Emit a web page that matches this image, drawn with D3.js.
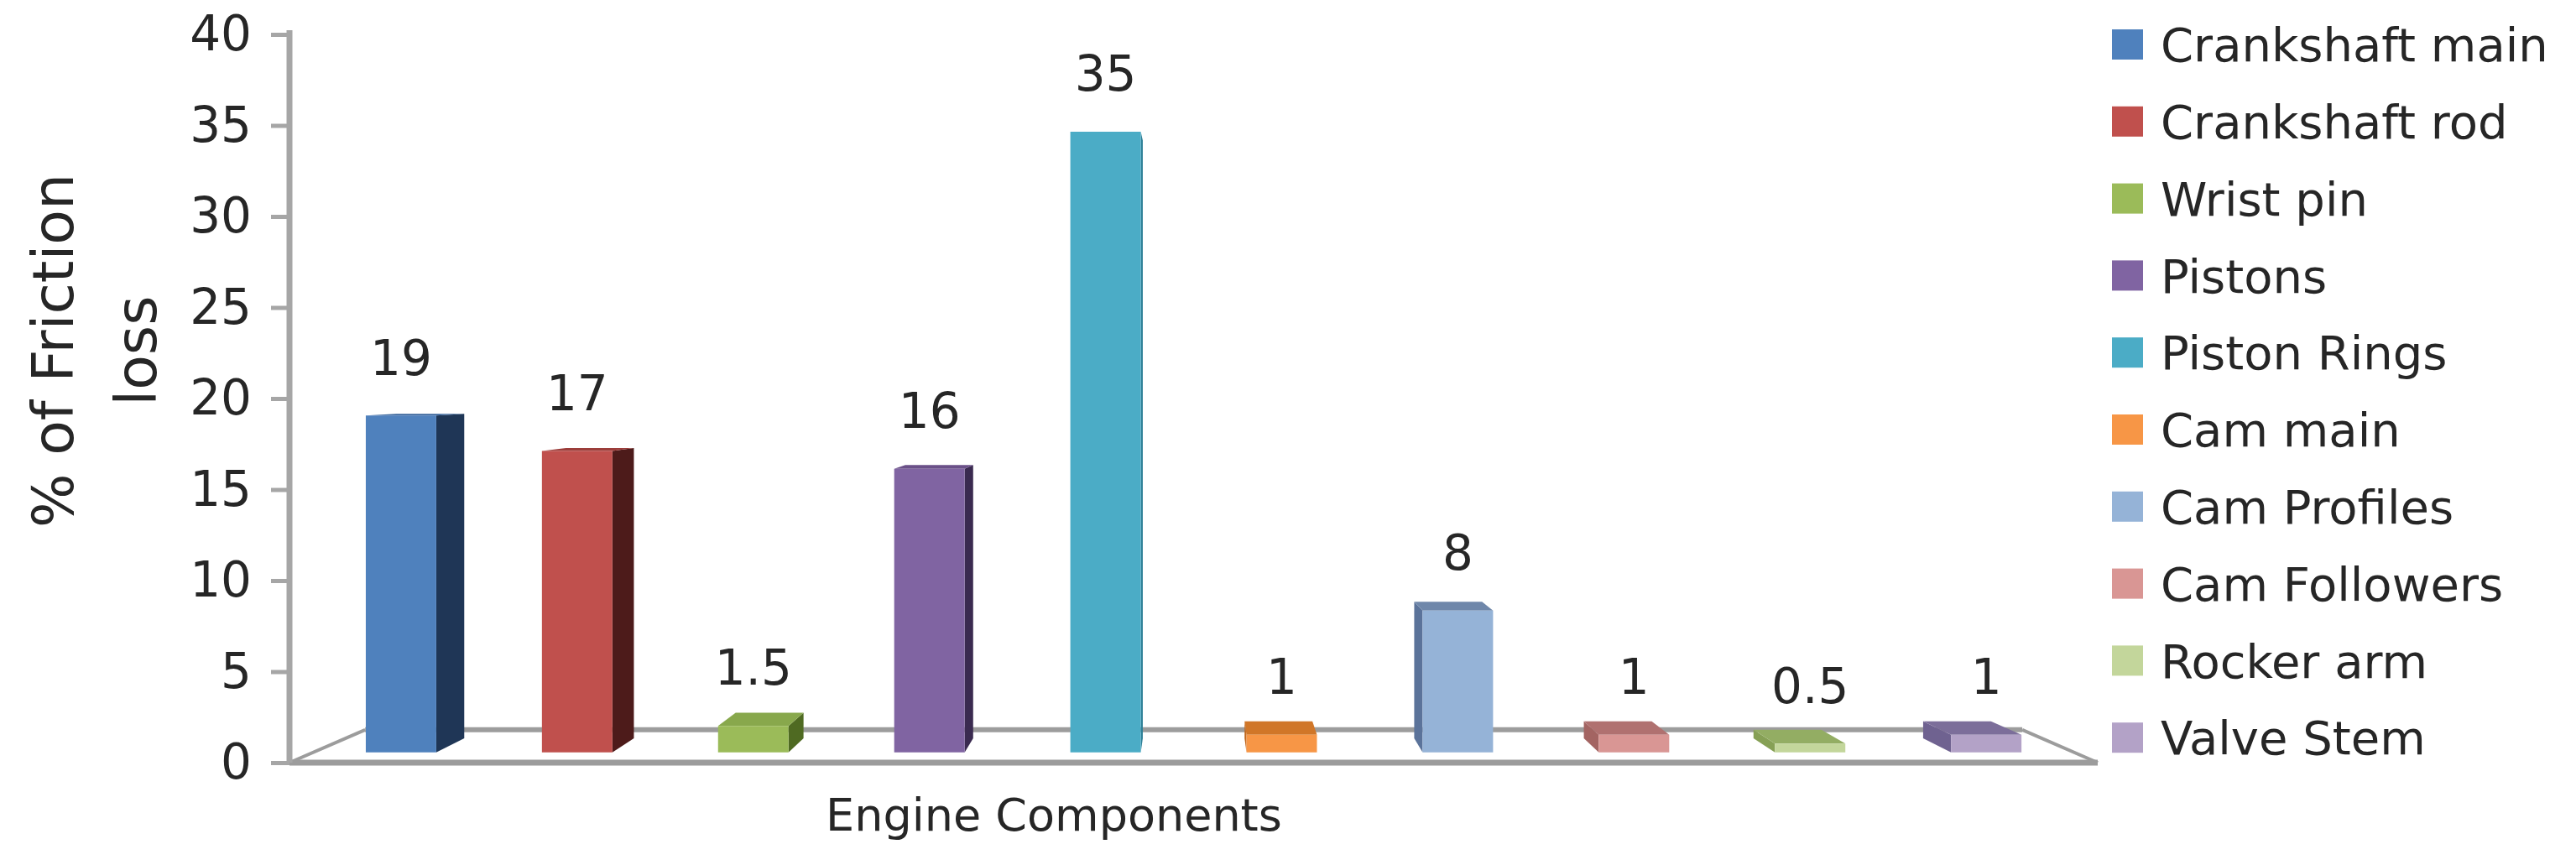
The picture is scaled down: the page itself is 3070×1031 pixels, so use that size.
<!DOCTYPE html>
<html>
<head>
<meta charset="utf-8">
<script src="https://cdn.jsdelivr.net/npm/d3@7"></script>
<style>
  body { margin: 0; background: #fff; }
  svg { display: block; }
  text { font-family: "DejaVu Sans", sans-serif; fill: #262626; }
</style>
</head>
<body>
<div id="chart"></div>
<script>
const components = ['Crankshaft main', 'Crankshaft rod', 'Wrist pin', 'Pistons', 'Piston Rings',
  'Cam main', 'Cam Profiles', 'Cam Followers', 'Rocker arm', 'Valve Stem'];
const frictionLoss = [19, 17, 1.5, 16, 35, 1, 8, 1, 0.5, 1];
const yTicks = [0, 5, 10, 15, 20, 25, 30, 35, 40];

// front / side / top shades per series
const palette = [
  { front: '#4f81bd', side: '#1f3656', top: '#3a669c' },
  { front: '#c0504d', side: '#4d1b1a', top: '#9c3d3a' },
  { front: '#9bbb59', side: '#4f6a22', top: '#88a84c' },
  { front: '#8064a2', side: '#3a2a50', top: '#6a5088' },
  { front: '#4bacc6', side: '#2d7f96', top: '#3e96ae' },
  { front: '#f79646', side: '#c0661c', top: '#d07628' },
  { front: '#95b3d7', side: '#5b739a', top: '#6f87aa' },
  { front: '#d99694', side: '#a36462', top: '#b07170' },
  { front: '#c3d69b', side: '#86a055', top: '#93ad63' },
  { front: '#b3a2c7', side: '#6f6290', top: '#7c6e9a' }
];

const width = 3070, height = 1031;
const svg = d3.select('#chart').append('svg')
  .attr('width', width)
  .attr('height', height);

const left = 345, right = 2500;
const x = d3.scaleBand().domain(components).range([left, right])
  .paddingInner(0.6).paddingOuter(0.3);
const y = d3.scaleLinear().domain([0, 40]).range([909, 41]);

// simple perspective: points pushed back in depth shrink towards the vanishing point
const vp = [1424, 440];
const depth = 0.0836;
const project = (px, py, z) => [px + (vp[0] - px) * depth * z, py + (vp[1] - py) * depth * z];
const zFront = 0.31, zBack = 0.74;

// floor outline
const floorG = svg.append('g').attr('fill', 'none').attr('stroke', '#9c9c9c');
const bl = project(left, y(0), 1), br = project(right, y(0), 1);
floorG.append('line')
  .attr('x1', bl[0]).attr('y1', bl[1]).attr('x2', br[0]).attr('y2', br[1])
  .attr('stroke-width', 6);
floorG.append('line')
  .attr('x1', left).attr('y1', y(0)).attr('x2', bl[0]).attr('y2', bl[1])
  .attr('stroke-width', 4);
floorG.append('line')
  .attr('x1', right).attr('y1', y(0)).attr('x2', br[0]).attr('y2', br[1])
  .attr('stroke-width', 4);
floorG.append('line')
  .attr('x1', left).attr('y1', y(0)).attr('x2', right).attr('y2', y(0))
  .attr('stroke-width', 7);

// y axis
const yAxis = svg.append('g')
  .attr('transform', `translate(${left},0)`)
  .call(d3.axisLeft(y).tickValues(yTicks).tickSize(22).tickSizeOuter(0).tickPadding(23));
yAxis.select('.domain').attr('stroke', '#a6a6a6').attr('stroke-width', 7)
  .attr('d', `M0,${y(40) - 5}V${y(0)}`);
yAxis.selectAll('.tick line').attr('stroke', '#a6a6a6').attr('stroke-width', 5);
yAxis.selectAll('.tick text')
  .style('font-family', '"DejaVu Sans", sans-serif')
  .style('font-size', '58px')
  .attr('fill', '#333');

// bars
const poly = pts => pts.map(p => p.join(',')).join(' ');
const barsG = svg.append('g');
components.forEach((c, i) => {
  const v = frictionLoss[i];
  const x0 = x(c), x1 = x0 + x.bandwidth();
  const yt = y(v), yb = y(0);
  const col = palette[i];
  const g = barsG.append('g');

  if (x1 < vp[0]) {
    g.append('polygon').attr('fill', col.side)
      .attr('points', poly([project(x1, yt, zFront), project(x1, yt, zBack),
        project(x1, yb, zBack), project(x1, yb, zFront)]));
  } else if (x0 > vp[0]) {
    g.append('polygon').attr('fill', col.side)
      .attr('points', poly([project(x0, yt, zFront), project(x0, yt, zBack),
        project(x0, yb, zBack), project(x0, yb, zFront)]));
  }
  if (yt > vp[1]) {
    g.append('polygon').attr('fill', col.top)
      .attr('points', poly([project(x0, yt, zFront), project(x1, yt, zFront),
        project(x1, yt, zBack), project(x0, yt, zBack)]));
  }
  g.append('polygon').attr('fill', col.front)
    .attr('points', poly([project(x0, yt, zFront), project(x1, yt, zFront),
      project(x1, yb, zFront), project(x0, yb, zFront)]));

  // value label
  const lp = project((x0 + x1) / 2, yt, zFront);
  g.append('text')
    .attr('x', lp[0]).attr('y', lp[1] - 69)
    .attr('dy', '0.35em')
    .attr('text-anchor', 'middle')
    .style('font-size', '58px')
    .text(v);
});

// axis titles
svg.append('text')
  .attr('transform', 'translate(87,418) rotate(-90)')
  .attr('text-anchor', 'middle')
  .style('font-size', '68px')
  .text('% of Friction');
svg.append('text')
  .attr('transform', 'translate(186,418) rotate(-90)')
  .attr('text-anchor', 'middle')
  .style('font-size', '68px')
  .text('loss');
svg.append('text')
  .attr('x', 1256).attr('y', 990)
  .attr('text-anchor', 'middle')
  .style('font-size', '54px')
  .text('Engine Components');

// legend
const legend = svg.append('g').attr('transform', 'translate(2517,53)');
const rows = legend.selectAll('g').data(components).join('g')
  .attr('transform', (d, i) => `translate(0,${i * 91.8})`);
rows.append('rect')
  .attr('x', 0).attr('y', -18).attr('width', 37).attr('height', 36)
  .attr('fill', (d, i) => palette[i].front);
rows.append('text')
  .attr('x', 58).attr('dy', '0.36em')
  .style('font-size', '56px')
  .text(d => d);
</script>
</body>
</html>
